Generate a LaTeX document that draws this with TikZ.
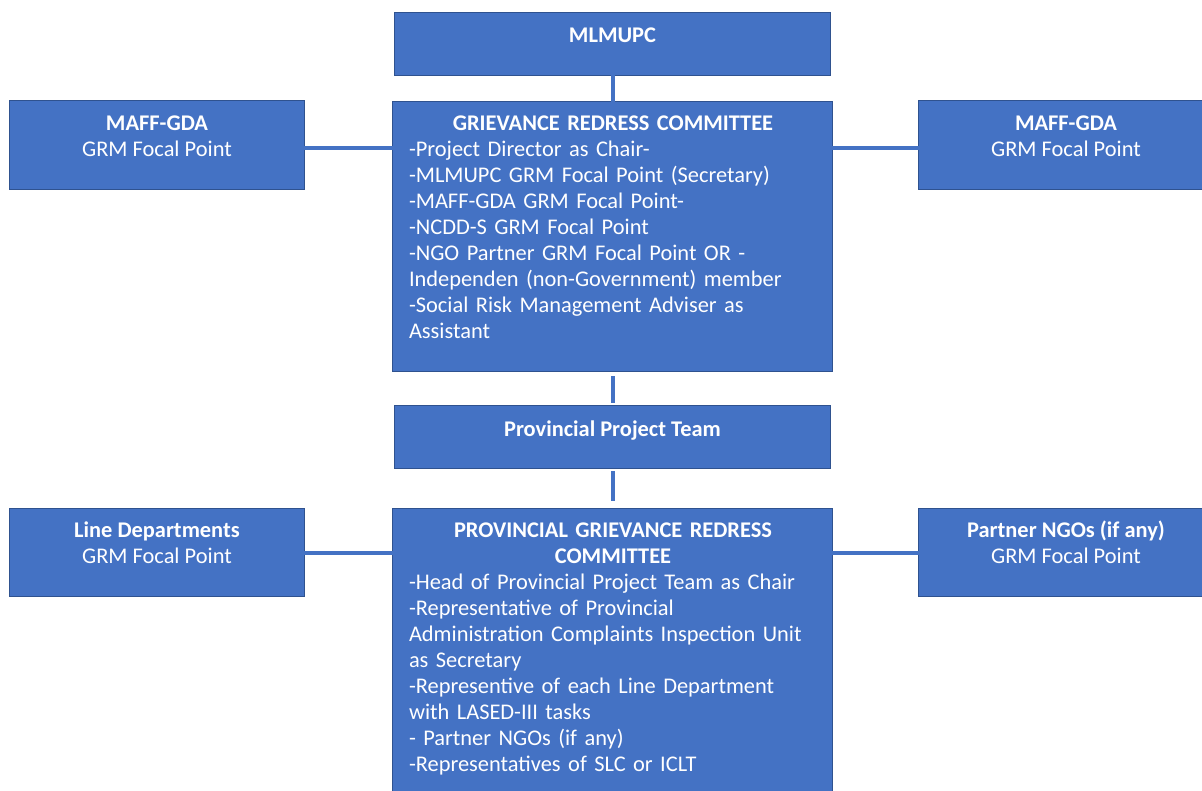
\documentclass[tikz,border=0pt]{standalone}
\usepackage{fontspec}
\setmainfont{Carlito}
\definecolor{boxfill}{HTML}{4472C4}
\definecolor{boxline}{HTML}{2F528F}
\tikzset{
  orgbox/.style={draw=boxline, fill=boxfill, line width=1.2pt, inner sep=0pt},
  boxtext/.style={text=white, inner sep=0pt, font=\fontsize{22.4}{26}\selectfont},
  link/.style={draw=boxfill, line width=4pt}
}
\begin{document}
\begin{tikzpicture}[x=1pt,y=-1pt]
\useasboundingbox (0,0) rectangle (1202,791);
\clip (0,0) rectangle (1202,791);
% boxes
\node[inner sep=0pt, minimum width=435pt, minimum height=62pt] (mlmupc) at (612.5,44) {};
\node[inner sep=0pt, minimum width=439pt, minimum height=269pt] (grc) at (612.5,236.5) {};
\node[inner sep=0pt, minimum width=294pt, minimum height=88pt] (mafL) at (157,145) {};
\node[inner sep=0pt, minimum width=283pt, minimum height=88pt] (mafR) at (1060.5,145) {};
\node[inner sep=0pt, minimum width=435pt, minimum height=62pt] (ppt) at (612.5,437) {};
\node[inner sep=0pt, minimum width=439pt, minimum height=290pt] (pgrc) at (612.5,654) {};
\node[inner sep=0pt, minimum width=294pt, minimum height=87pt] (lined) at (157,552.5) {};
\node[inner sep=0pt, minimum width=283pt, minimum height=87pt] (ngos) at (1060.5,552.5) {};
\foreach \b in {mlmupc,grc,mafL,mafR,ppt,pgrc,lined,ngos}{
  \path[orgbox] (\b.north west) rectangle (\b.south east);
}
% connectors
\draw[link] (mlmupc.south) -- (grc.north);
\draw[link] ([yshift=-5pt]grc.south) -- ([yshift=3pt]ppt.north);
\draw[link] ([yshift=-3pt]ppt.south) -- ([yshift=8pt]pgrc.north);
\draw[link] (mafL.east |- 0,148) -- (grc.west |- 0,148);
\draw[link] (grc.east |- 0,148) -- (mafR.west |- 0,148);
\draw[link] (lined.east |- 0,553) -- (pgrc.west |- 0,553);
\draw[link] (pgrc.east |- 0,553) -- (ngos.west |- 0,553);
% texts
\node[boxtext, anchor=base] (t1) at (612.5,43) {\bfseries MLMUPC};
\node[boxtext, anchor=base] (t2) at (612.5,436) {\bfseries Provincial Project Team};
\node[boxtext, anchor=base, align=center] (t3) at (157,157) {\bfseries MAFF-GDA\\GRM Focal Point};
\node[boxtext, anchor=base, align=center] (t4) at (1066,157) {\bfseries MAFF-GDA\\GRM Focal Point};
\node[boxtext, anchor=base, align=center] (t5) at (157,563) {\bfseries Line Departments\\GRM Focal Point};
\node[boxtext, anchor=base, align=center] (t6) at (1066,563) {\bfseries Partner NGOs (if any)\\GRM Focal Point};
\node[boxtext, anchor=base, text width=408pt] (t7) at (613,131) {{\centering\bfseries GRIEVANCE REDRESS COMMITTEE\par}\raggedright
-Project Director as Chair-\\
-MLMUPC GRM Focal Point (Secretary)\\
-MAFF-GDA GRM Focal Point-\\
-NCDD-S GRM Focal Point\\
-NGO Partner GRM Focal Point OR -\\
Independen (non-Government) member\\
-Social Risk Management Adviser as\\
Assistant};
\node[boxtext, anchor=base, text width=408pt] (t8) at (613,537) {{\centering\bfseries PROVINCIAL GRIEVANCE REDRESS\\COMMITTEE\par}\raggedright
-Head of Provincial Project Team as Chair\\
-Representative of Provincial\\
Administration Complaints Inspection Unit\\
as Secretary\\
-Representive of each Line Department\\
with LASED-III tasks\\
- Partner NGOs (if any)\\
-Representatives of SLC or ICLT};
\end{tikzpicture}
\end{document}
